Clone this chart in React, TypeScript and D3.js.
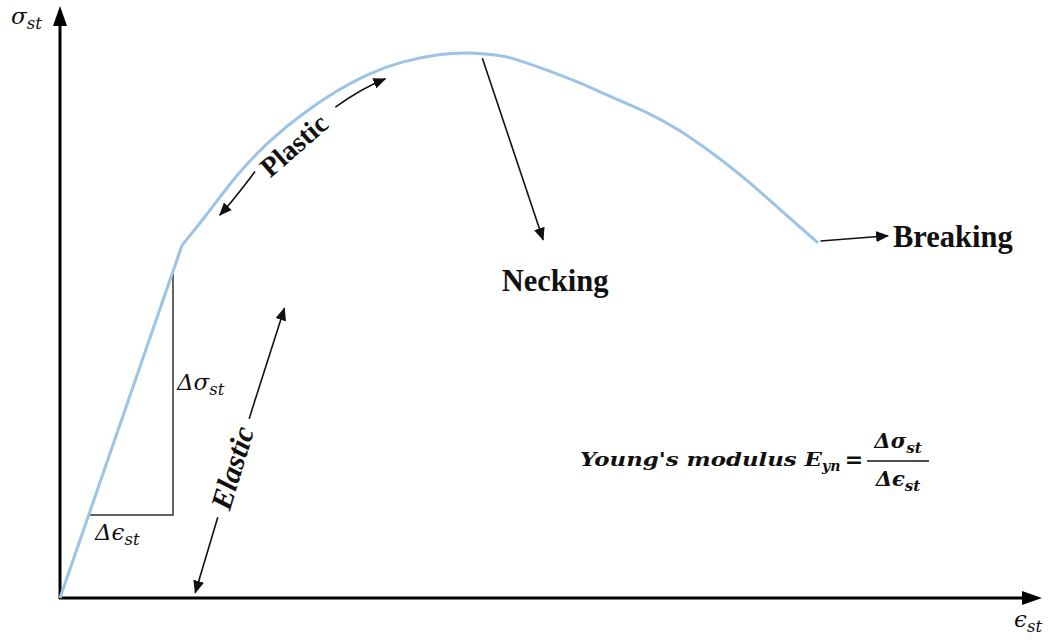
import React from "react";
import * as d3 from "d3";

// Stress–strain curve (arbitrary units: strain 0..100, stress 0..100)
const elasticStrain = [0, 12.45];
const elasticStress = [0, 59.8];
const plasticStrain = [12.45, 14.6, 18.1, 21.4, 24.8, 28.3, 31.6, 35.0, 38.5, 41.8, 44.9, 46.2, 49.7, 53.1, 56.4, 59.9, 63.3, 66.6, 70.1, 73.5, 77.35];
const plasticStress = [59.8, 64.1, 72.0, 77.6, 82.2, 86.1, 89.0, 91.0, 92.2, 92.5, 92.0, 91.5, 89.5, 87.3, 84.8, 82.4, 79.3, 75.4, 70.9, 65.8, 60.2];

// Slope triangle on the elastic segment
const triStress = 14.07;
const triStrain = 11.53;

const W = 1052;
const H = 640;

const x = d3.scaleLinear().domain([0, 100]).range([60, 1040]);
const y = d3.scaleLinear().domain([0, 100]).range([598, 8]);

const line = d3.line<[number, number]>().x((d) => x(d[0])).y((d) => y(d[1]));
const smooth = d3
  .line<[number, number]>()
  .x((d) => x(d[0]))
  .y((d) => y(d[1]))
  .curve(d3.curveBasis);

const elasticPts: [number, number][] = elasticStrain.map((v, i) => [v, elasticStress[i]]);
const plasticPts: [number, number][] = plasticStrain.map((v, i) => [v, plasticStress[i]]);

const slope = elasticStress[1] / elasticStrain[1];

const math = "'DejaVu Serif', serif";
const serif = "'Liberation Serif', 'Times New Roman', serif";

function Sub({ base, sub, x0, y0, size, bold = false, anchor = "start" }: any) {
  return (
    <text
      x={x0}
      y={y0}
      fontFamily={math}
      fontStyle="italic"
      fontWeight={bold ? "bold" : "normal"}
      fontSize={size}
      textAnchor={anchor}
      fill="#111"
    >
      {base}
      <tspan fontSize={size * 0.72} dy={size * 0.22}>
        {sub}
      </tspan>
    </text>
  );
}

export default function App() {
  const p = (a: number, b: number) => `${x(a)},${y(b)}`;
  const triX0 = triStress / slope;
  const triY1 = triStrain * slope;

  return (
    <svg width={W} height={H} style={{ position: "absolute", left: 0, top: 0, background: "#fff" }}>
      <defs>
        <marker id="ah" viewBox="0 0 13 11" refX="12" refY="5.5" markerWidth="13" markerHeight="11" markerUnits="userSpaceOnUse" orient="auto-start-reverse">
          <path d="M0,0 L13,5.5 L0,11 Z" fill="#111" />
        </marker>
      </defs>

      {/* axes */}
      <line x1={x(0)} y1={y(0) + 1} x2={x(0)} y2={22} stroke="#000" strokeWidth={3} />
      <path d={`M${x(0) - 7},26 L${x(0)},6 L${x(0) + 7},26 Z`} fill="#000" />
      <line x1={x(0) - 1} y1={y(0)} x2={1024} y2={y(0)} stroke="#000" strokeWidth={3} />
      <path d={`M1022,${y(0) - 7} L1042,${y(0)} L1022,${y(0) + 7} Z`} fill="#000" />

      {/* slope triangle */}
      <path
        d={`M${p(triX0, triStress)} L${p(triStrain, triStress)} L${p(triStrain, triY1)}`}
        fill="none"
        stroke="#333"
        strokeWidth={1.5}
      />

      {/* stress–strain curve */}
      <path d={line(elasticPts) || ""} fill="none" stroke="#9DC3E6" strokeWidth={3} />
      <path d={smooth(plasticPts) || ""} fill="none" stroke="#9DC3E6" strokeWidth={3} />

      {/* axis labels */}
      <Sub base="σ" sub="st" x0={11} y0={24} size={23} />
      <Sub base="ϵ" sub="st" x0={1014} y0={627} size={23} />
      <Sub base="Δσ" sub="st" x0={177} y0={390} size={23} />
      <Sub base="Δϵ" sub="st" x0={95} y0={540} size={23} />

      {/* plastic region arrow */}
      <path
        d={`M${p(19.9, 72.3)} Q${x(17.7)},${y(67.4)} ${p(16.3, 64.9)}`}
        fill="none"
        stroke="#111"
        strokeWidth={1.6}
        markerEnd="url(#ah)"
      />
      <path
        d={`M${p(28.1, 83.2)} Q${x(30.8)},${y(86.4)} ${p(33.2, 88.0)}`}
        fill="none"
        stroke="#111"
        strokeWidth={1.6}
        markerEnd="url(#ah)"
      />
      <text
        transform={`translate(${x(24.2) + 3},${y(77.9) + 14}) rotate(-41)`}
        textAnchor="middle"
        fontFamily={serif}
        fontWeight="bold"
        fontSize={28}
        fill="#111"
      >
        Plastic
      </text>

      {/* elastic region arrow */}
      <line x1={x(19.3)} y1={y(30.4)} x2={x(22.9)} y2={y(49.1)} stroke="#111" strokeWidth={1.6} markerEnd="url(#ah)" />
      <line x1={x(16.1)} y1={y(13.7)} x2={x(13.8)} y2={y(0.9)} stroke="#111" strokeWidth={1.6} markerEnd="url(#ah)" />
      <text
        transform={`translate(${x(17.7)},${y(22.0)}) rotate(-73)`}
        textAnchor="middle"
        dy={9}
        fontFamily={serif}
        fontWeight="bold"
        fontStyle="italic"
        fontSize={30}
        fill="#111"
      >
        Elastic
      </text>

      {/* necking */}
      <line x1={x(43.1)} y1={y(91.5)} x2={x(49.3)} y2={y(60.7)} stroke="#111" strokeWidth={1.6} markerEnd="url(#ah)" />
      <text x={555} y={291} textAnchor="middle" fontFamily={serif} fontWeight="bold" fontSize={30.5} fill="#111">
        Necking
      </text>

      {/* breaking */}
      <line x1={x(77.6)} y1={y(60.5)} x2={x(84.5)} y2={y(61.4)} stroke="#111" strokeWidth={1.6} markerEnd="url(#ah)" />
      <text x={893} y={247} fontFamily={serif} fontWeight="bold" fontSize={30.5} fill="#111">
        Breaking
      </text>

      {/* Young's modulus formula */}
      <text
        x={580}
        y={466}
        fontFamily={math}
        fontStyle="italic"
        fontWeight="bold"
        fontSize={19}
        textLength={242}
        lengthAdjust="spacingAndGlyphs"
        fill="#111"
      >
        Young's modulus E
      </text>
      <text x={822} y={471} fontFamily={math} fontStyle="italic" fontWeight="bold" fontSize={14} fill="#111">
        yn
      </text>
      <text x={854} y={467} textAnchor="middle" fontFamily={math} fontWeight="bold" fontSize={22} fill="#111">
        =
      </text>
      <line x1={867} y1={461} x2={929} y2={461} stroke="#111" strokeWidth={1.5} />
      <Sub base="Δσ" sub="st" x0={898} y0={448} size={21} bold anchor="middle" />
      <Sub base="Δϵ" sub="st" x0={898} y0={486} size={21} bold anchor="middle" />
    </svg>
  );
}
